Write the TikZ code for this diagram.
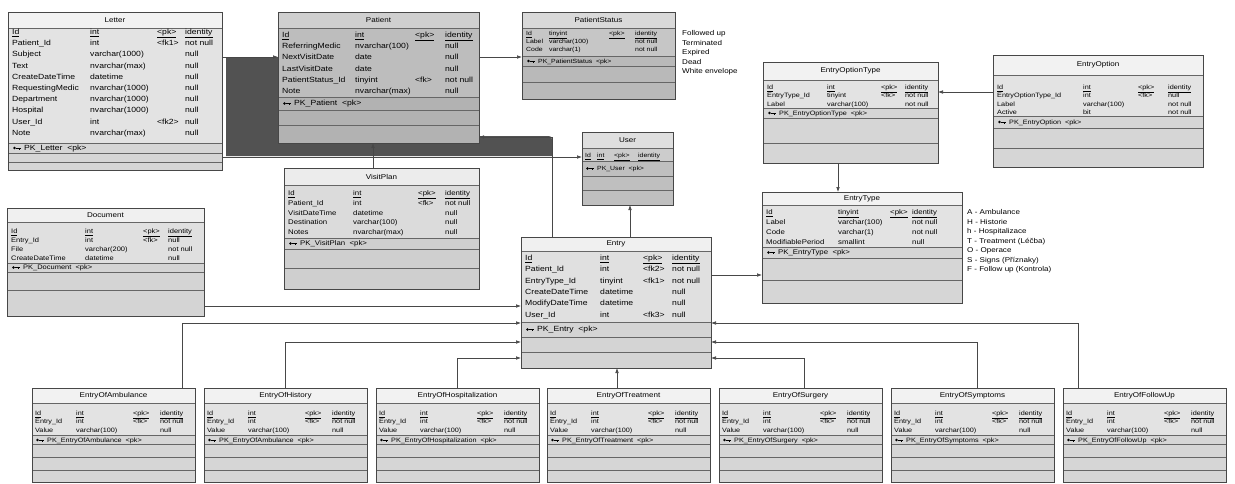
\documentclass[tikz,border=0pt]{standalone}
\usepackage{fontspec}
\setmainfont{Liberation Sans}[FakeStretch=1.15]
\usetikzlibrary{arrows.meta,calc,fit}
\newcommand\fs[1]{\fontsize{#1}{#1}\selectfont}
\def\ffont{\fs{7}}
\def\tfont{\fs{7}}
% table: name, x1, y1, x2, y2, title, title-line y, pk-separator y, further lines
\newcommand\dbtable[9]{%
  \fill[cB] (#2,#3) rectangle (#4,#5);
  \fill[cT] (#2,#3) rectangle (#4,#7);
  \fill[cD] (#2,#8) rectangle (#4,#5);
  \draw[sep] (#2,#7) -- (#4,#7);
  \draw[sep] (#2,#8) -- (#4,#8);
  \foreach \yy in {#9} {\draw[sep] (#2,\yy) -- (#4,\yy);}
  \node[tblframe, fit={(#2,#3) (#4,#5)}] (#1) {};
  \node[ttl] (#1-t) at ({(#2+#4)/2},{(#3+#7)/2}) {#6};
}
% column of texts: prefix, x, first baseline, step, list
\newcommand\fcol[5]{%
  \foreach \t [count=\i from 0] in {#5} {\node[ftext] (#1-\i) at (#2,{#3+\i*#4}) {\t};}
}
% pk row: name, x, centre y, text
\newcommand\pkrow[4]{%
  \fill[black] (#2+2.5,#3) circle (1.4);
  \draw[keyic] (#2+3.5,#3) -- (#2+8.5,#3) (#2+7,#3) -- (#2+7,#3+1.5);
  \node[ftext] (#1) at (#2+12,#3+2.3) {#4};
}
% sub-entry table: name, x, title, pk name
\newcommand\subtable[4]{%
  \dbtable{#1}{#2}{388}{#2+163}{482.5}{#3}{403}{435}{444.5,457,470}
  \fcol{#1-n}{#2+3}{415.3}{8.6}{\underline{Id},Entry\_Id,Value}
  \fcol{#1-y}{#2+44}{415.3}{8.6}{\underline{int},int,varchar(100)}
  \fcol{#1-k}{#2+101}{415.3}{8.6}{\underline{<pk>},<fk>,{}}
  \fcol{#1-u}{#2+128}{415.3}{8.6}{\underline{identity},not null,null}
  \pkrow{#1-pk}{#2+3}{440}{#4 \ <pk>}
}
\begin{document}
\begin{tikzpicture}[x=1pt,y=-1pt,
  sep/.style={draw=black!60,line width=0.5pt},
  tblframe/.style={draw=black!72,line width=0.7pt,inner sep=0pt,outer sep=0pt},
  ttl/.style={inner sep=0pt,font=\tfont},
  ftext/.style={anchor=base west,inner sep=0pt,font=\ffont},
  note/.style={anchor=base west,inner sep=0pt,font=\fs{7}},
  fk/.style={draw=black!72,line width=0.6pt,-{Latex[length=5pt,width=3.6pt]}},
  keyic/.style={draw=black,line width=0.5pt}]
\fill[white] (0,0) rectangle (1235,483);
\useasboundingbox (0,0) rectangle (1235,483);

% dark band
\fill[black!68] (226,57) -- (278,57) -- (278,136) -- (545,136) .. controls (552,136) .. (552,143) -- (552,156) -- (226,156) -- cycle;

% ---------- Letter
\colorlet{cT}{gray!10}\colorlet{cB}{gray!22}\colorlet{cD}{gray!32}
\def\ffont{\fs{7.5}}
\dbtable{letter}{8}{12}{222}{170}{Letter}{28}{143}{153,162}
\fcol{letter-n}{12}{34.5}{11.2}{\underline{Id},Patient\_Id,Subject,Text,CreateDateTime,RequestingMedic,Department,Hospital,User\_Id,Note}
\fcol{letter-y}{90}{34.5}{11.2}{\underline{int},int,varchar(1000),nvarchar(max),datetime,nvarchar(1000),nvarchar(1000),nvarchar(1000),int,nvarchar(max)}
\fcol{letter-k}{157}{34.5}{11.2}{\underline{<pk>},<fk1>,{},{},{},{},{},{},<fk2>,{}}
\fcol{letter-u}{185}{34.5}{11.2}{\underline{identity},not null,null,null,null,null,null,null,null,null}
\pkrow{letter-pk}{12}{148}{PK\_Letter \ <pk>}

% ---------- Patient
\colorlet{cT}{gray!38}\colorlet{cB}{gray!52}\colorlet{cD}{gray!60}
\dbtable{patient}{278}{12}{479}{143}{Patient}{28}{97}{110,125}
\fcol{patient-n}{282}{37.5}{11.2}{\underline{Id},ReferringMedic,NextVisitDate,LastVisitDate,PatientStatus\_Id,Note}
\fcol{patient-y}{355}{37.5}{11.2}{\underline{int},nvarchar(100),date,date,tinyint,nvarchar(max)}
\fcol{patient-k}{415}{37.5}{11.2}{\underline{<pk>},{},{},{},<fk>,{}}
\fcol{patient-u}{445}{37.5}{11.2}{\underline{identity},null,null,null,not null,null}
\pkrow{patient-pk}{282}{103.5}{PK\_Patient \ <pk>}

% ---------- PatientStatus
\colorlet{cT}{gray!30}\colorlet{cB}{gray!45}\colorlet{cD}{gray!55}
\def\ffont{\fs{6}}
\dbtable{pstatus}{522}{12}{675}{99}{PatientStatus}{28}{56}{66,82}
\fcol{pstatus-n}{526}{35.3}{8}{\underline{Id},Label,Code}
\fcol{pstatus-y}{549}{35.3}{8}{\underline{tinyint},varchar(100),varchar(1)}
\fcol{pstatus-k}{609}{35.3}{8}{\underline{<pk>},{},{}}
\fcol{pstatus-u}{635}{35.3}{8}{\underline{identity},not null,not null}
\pkrow{pstatus-pk}{526}{61}{PK\_PatientStatus \ <pk>}
\node[note] (ps-a) at (682,35.5) {Followed up};
\node[note] (ps-b) at (682,45.1) {Terminated};
\node[note] (ps-c) at (682,54.7) {Expired};
\node[note] (ps-d) at (682,64.3) {Dead};
\node[note] (ps-e) at (682,73.9) {White envelope};

% ---------- User
\colorlet{cT}{gray!25}\colorlet{cB}{gray!40}\colorlet{cD}{gray!50}
\def\ffont{\fs{6}}
\dbtable{user}{582}{132}{673}{205}{User}{148}{161}{176,190}
\node[ftext] (user-n) at (585,157.3) {\underline{Id}};
\node[ftext] (user-y) at (597,157.3) {\underline{int}};
\node[ftext] (user-k) at (614,157.3) {\underline{<pk>}};
\node[ftext] (user-u) at (638,157.3) {\underline{identity}};
\pkrow{user-pk}{585}{168.5}{PK\_User \ <pk>}

% ---------- VisitPlan
\colorlet{cT}{gray!15}\colorlet{cB}{gray!28}\colorlet{cD}{gray!38}
\def\ffont{\fs{6.8}}
\dbtable{visit}{284}{168}{479}{289}{VisitPlan}{185}{238}{249,268}
\fcol{visit-n}{288}{195.5}{9.8}{\underline{Id},Patient\_Id,VisitDateTime,Destination,Notes}
\fcol{visit-y}{353}{195.5}{9.8}{\underline{int},int,datetime,varchar(100),nvarchar(max)}
\fcol{visit-k}{418}{195.5}{9.8}{\underline{<pk>},<fk>,{},{},{}}
\fcol{visit-u}{445}{195.5}{9.8}{\underline{identity},not null,null,null,null}
\pkrow{visit-pk}{288}{243.5}{PK\_VisitPlan \ <pk>}

% ---------- Document
\colorlet{cT}{gray!12}\colorlet{cB}{gray!24}\colorlet{cD}{gray!34}
\def\ffont{\fs{6.5}}
\dbtable{doc}{7}{208}{204}{316}{Document}{222}{263}{272,290}
\fcol{doc-n}{11}{233.3}{9}{\underline{Id},Entry\_Id,File,CreateDateTime}
\fcol{doc-y}{85}{233.3}{9}{\underline{int},int,varchar(200),datetime}
\fcol{doc-k}{143}{233.3}{9}{\underline{<pk>},<fk>,{},{}}
\fcol{doc-u}{168}{233.3}{9}{\underline{identity},null,not null,null}
\pkrow{doc-pk}{11}{267.5}{PK\_Document \ <pk>}

% ---------- Entry
\colorlet{cT}{gray!12}\colorlet{cB}{gray!24}\colorlet{cD}{gray!34}
\def\ffont{\fs{7.5}}
\dbtable{entry}{521}{237}{711}{368}{Entry}{251}{322}{337,352}
\fcol{entry-n}{525}{260.5}{11.3}{\underline{Id},Patient\_Id,EntryType\_Id,CreateDateTime,ModifyDateTime,User\_Id}
\fcol{entry-y}{600}{260.5}{11.3}{\underline{int},int,tinyint,datetime,datetime,int}
\fcol{entry-k}{643}{260.5}{11.3}{\underline{<pk>},<fk2>,<fk1>,{},{},<fk3>}
\fcol{entry-u}{672}{260.5}{11.3}{\underline{identity},not null,not null,null,null,null}
\pkrow{entry-pk}{525}{329.5}{PK\_Entry \ <pk>}

% ---------- EntryOptionType
\colorlet{cT}{gray!10}\colorlet{cB}{gray!22}\colorlet{cD}{gray!32}
\def\ffont{\fs{6.3}}
\dbtable{eotype}{763}{62}{938}{163}{EntryOptionType}{80}{108}{118,143}
\fcol{eotype-n}{767}{89.3}{8.5}{\underline{Id},EntryType\_Id,Label}
\fcol{eotype-y}{827}{89.3}{8.5}{\underline{int},tinyint,varchar(100)}
\fcol{eotype-k}{881}{89.3}{8.5}{\underline{<pk>},<fk>,{}}
\fcol{eotype-u}{905}{89.3}{8.5}{\underline{identity},not null,not null}
\pkrow{eotype-pk}{767}{113}{PK\_EntryOptionType \ <pk>}

% ---------- EntryOption
\dbtable{eopt}{993}{55}{1203}{167}{EntryOption}{75}{116}{128,148}
\fcol{eopt-n}{997}{89.3}{8.5}{\underline{Id},EntryOptionType\_Id,Label,Active}
\fcol{eopt-y}{1083}{89.3}{8.5}{\underline{int},int,varchar(100),bit}
\fcol{eopt-k}{1138}{89.3}{8.5}{\underline{<pk>},<fk>,{},{}}
\fcol{eopt-u}{1168}{89.3}{8.5}{\underline{identity},null,not null,not null}
\pkrow{eopt-pk}{997}{122}{PK\_EntryOption \ <pk>}

% ---------- EntryType
\def\ffont{\fs{6.8}}
\dbtable{etype}{762}{192}{962}{303}{EntryType}{205}{247}{258,280}
\fcol{etype-n}{766}{214.5}{10}{\underline{Id},Label,Code,ModifiablePeriod}
\fcol{etype-y}{838}{214.5}{10}{\underline{tinyint},varchar(100),varchar(1),smallint}
\fcol{etype-k}{890}{214.5}{10}{\underline{<pk>},{},{},{}}
\fcol{etype-u}{912}{214.5}{10}{\underline{identity},not null,not null,null}
\pkrow{etype-pk}{766}{252.5}{PK\_EntryType \ <pk>}
\node[note] (et-a) at (967,214.5) {A - Ambulance};
\node[note] (et-b) at (967,224) {H - Historie};
\node[note] (et-c) at (967,233.5) {h - Hospitalizace};
\node[note] (et-d) at (967,243) {T - Treatment (Léčba)};
\node[note] (et-e) at (967,252.5) {O - Operace};
\node[note] (et-f) at (967,262) {S - Signs (Příznaky)};
\node[note] (et-g) at (967,271.5) {F - Follow up (Kontrola)};

% ---------- bottom row
\colorlet{cT}{gray!10}\colorlet{cB}{gray!22}\colorlet{cD}{gray!32}
\def\ffont{\fs{6.3}}
\subtable{eamb}{32}{EntryOfAmbulance}{PK\_EntryOfAmbulance}
\subtable{ehist}{204}{EntryOfHistory}{PK\_EntryOfAmbulance}
\subtable{ehosp}{376}{EntryOfHospitalization}{PK\_EntryOfHospitalization}
\subtable{etreat}{547}{EntryOfTreatment}{PK\_EntryOfTreatment}
\subtable{esurg}{719}{EntryOfSurgery}{PK\_EntryOfSurgery}
\subtable{esymp}{891}{EntryOfSymptoms}{PK\_EntryOfSymptoms}
\subtable{efollow}{1063}{EntryOfFollowUp}{PK\_EntryOfFollowUp}

% ---------- connectors
\draw[fk] ($(letter.north east)+(0,45)$) -- ($(patient.north west)+(0,45)$);
\draw[fk] ($(patient.north east)+(0,45)$) -- ($(pstatus.north west)+(0,45)$);
\draw[fk] ($(letter.north east)+(0,145)$) -- ($(user.north west)+(0,25)$);
\draw[fk] ($(entry.north west)+(31,0)$) |- ($(patient.north east)+(0,125)$);
\draw[fk] ($(entry.north west)+(109,0)$) -- ($(user.south west)+(48,0)$);
\draw[fk] ($(visit.north west)+(89,0)$) -- ($(patient.south west)+(95,0)$);
\draw[fk] ($(eopt.north west)+(0,37)$) -- ($(eotype.north east)+(0,30)$);
\draw[fk] ($(eotype.south west)+(75,0)$) -- ($(etype.north west)+(76,0)$);
\draw[fk] ($(entry.north east)+(0,38)$) -- ($(etype.north west)+(0,83)$);
\draw[fk] ($(doc.north east)+(0,98)$) -- ($(entry.north west)+(0,69)$);
\draw[fk] ($(eamb.north west)+(150,0)$) |- ($(entry.north west)+(0,86)$);
\draw[fk] ($(ehist.north west)+(81,0)$) |- ($(entry.north west)+(0,105)$);
\draw[fk] ($(ehosp.north west)+(81,0)$) |- ($(entry.north west)+(0,121)$);
\draw[fk] ($(etreat.north west)+(70,0)$) -- ($(entry.south west)+(96,0)$);
\draw[fk] ($(esurg.north west)+(85,0)$) |- ($(entry.north east)+(0,121)$);
\draw[fk] ($(esymp.north west)+(86,0)$) |- ($(entry.north east)+(0,105)$);
\draw[fk] ($(efollow.north west)+(15,0)$) |- ($(entry.north east)+(0,86)$);
\end{tikzpicture}
\end{document}
